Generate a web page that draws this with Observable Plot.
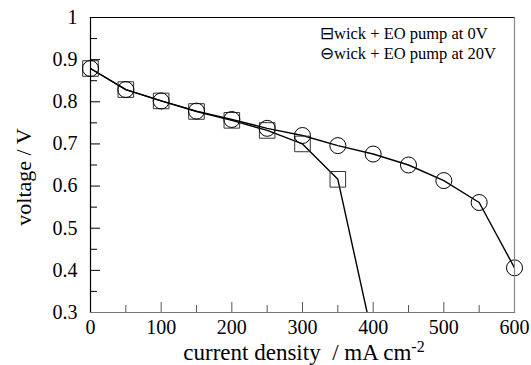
<!DOCTYPE html>
<html>
<head>
<meta charset="utf-8">
<script src="https://cdn.jsdelivr.net/npm/d3@7"></script>
<script src="https://cdn.jsdelivr.net/npm/@observablehq/plot@0.6"></script>
<style>
  html, body { margin: 0; padding: 0; background: #fff; }
  svg { display: block; }
  svg text, svg tspan { font-family: "Liberation Serif", "Times New Roman", Times, serif !important; }
</style>
</head>
<body>
<div id="chart"></div>
<script>
// current density (mA cm-2)
const current0V = [0, 50, 100, 150, 200, 250, 300, 350, 400];
const voltage0V = [0.879, 0.829, 0.802, 0.777, 0.756, 0.732, 0.700, 0.616, 0.235];
const current20V = [0, 50, 100, 150, 200, 250, 300, 350, 400, 450, 500, 550, 600];
const voltage20V = [0.879, 0.829, 0.802, 0.778, 0.758, 0.737, 0.720, 0.696, 0.676, 0.650, 0.613, 0.561, 0.406];

const xMajorTicks = [0, 100, 200, 300, 400, 500, 600];
const xMinorTicks = [50, 150, 250, 350, 450, 550];
const yMajorTicks = [0.3, 0.4, 0.5, 0.6, 0.7, 0.8, 0.9, 1];
const yMinorTicks = [0.35, 0.45, 0.55, 0.65, 0.75, 0.85, 0.95];
const yTickLabels = ["0.3", "0.4", "0.5", "0.6", "0.7", "0.8", "0.9", "1"];
const legendLabels = ["\u229Fwick + EO pump at 0V", "\u2296wick + EO pump at 20V"];
const xTitle = "current density  / mA cm";
const xTitleSup = "-2";
const yTitle = "voltage / V";

const s0 = current0V.map((x, i) => ({x, v: voltage0V[i]}));
const s20 = current20V.map((x, i) => ({x, v: voltage20V[i]}));

const W = 531, H = 365;
const mL = 90, mR = 17, mT = 17, mB = 53;
const pw = W - mL - mR, ph = H - mT - mB;
const font = "Liberation Serif";

const plot = Plot.plot({
  width: W, height: H,
  marginLeft: mL, marginRight: mR, marginTop: mT, marginBottom: mB,
  style: {fontSize: "18px", color: "#000", background: "#fff"},
  x: {domain: [0, 600]},
  y: {domain: [0.3, 1]},
  marks: [
    // ticks (inward)
    Plot.tickY(yMajorTicks, {y: d => d, stroke: "#000", strokeWidth: 1, insetRight: pw - 10}),
    Plot.tickY(yMinorTicks, {y: d => d, stroke: "#000", strokeWidth: 1, insetRight: pw - 7}),
    Plot.tickX(xMajorTicks, {x: d => d, stroke: "#555", strokeWidth: 1, insetTop: ph - 10}),
    Plot.tickX(xMinorTicks, {x: d => d, stroke: "#555", strokeWidth: 1, insetTop: ph - 7}),
    // lines
    Plot.line(s0, {x: "x", y: "v", stroke: "#000", strokeWidth: 1.4, clip: true}),
    Plot.line(s20, {x: "x", y: "v", stroke: "#000", strokeWidth: 1.4, clip: true}),
    // markers
    Plot.dot(s0, {x: "x", y: "v", filter: d => d.v >= 0.3, symbol: "square", r: 8.8, stroke: "#333", strokeWidth: 1, fill: "none"}),
    Plot.dot(s20, {x: "x", y: "v", symbol: "circle", r: 8, stroke: "#000", strokeWidth: 1, fill: "none"}),
    // frame
    Plot.frame({anchor: "top", stroke: "#000", strokeWidth: 1.2}),
    Plot.frame({anchor: "left", stroke: "#000", strokeWidth: 1.2}),
    Plot.frame({anchor: "right", stroke: "#888", strokeWidth: 1.2}),
    Plot.frame({anchor: "bottom", stroke: "#777", strokeWidth: 1.2}),
    // axes labels
    Plot.axisY(yMajorTicks, {anchor: "left", tickSize: 0, tickPadding: 13, tickFormat: d => yTickLabels[yMajorTicks.indexOf(d)], label: null, fontSize: 20, fontFamily: font}),
    Plot.axisX(xMajorTicks, {anchor: "bottom", tickSize: 0, tickPadding: 7, tickFormat: d => String(d), label: null, fontSize: 20, fontFamily: font}),
  ]
});

const svg = d3.select(plot);

// x title with superscript
const xt = svg.append("text")
  .attr("x", mL + pw / 2 + 2).attr("y", 360)
  .attr("text-anchor", "middle")
  .attr("font-family", font).attr("font-size", 23).attr("fill", "#000");
xt.append("tspan").text(xTitle);
xt.append("tspan").attr("dy", -8).attr("font-size", 16).text(xTitleSup);

// y title
svg.append("text")
  .attr("transform", `translate(31,177) rotate(-90)`)
  .attr("text-anchor", "middle")
  .attr("font-family", font).attr("font-size", 22).attr("fill", "#000")
  .text(yTitle);

// legend
legendLabels.forEach((t, i) => {
  svg.append("text")
    .attr("x", 320).attr("y", 39 + i * 20)
    .attr("text-anchor", "start")
    .attr("font-family", font).attr("font-size", 16.5).attr("fill", "#000")
    .text(t);
});

document.getElementById("chart").appendChild(plot);
</script>
</body>
</html>
